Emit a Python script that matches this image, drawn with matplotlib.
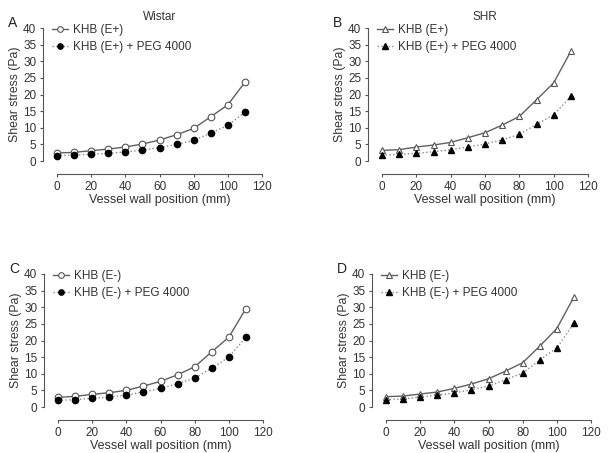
import matplotlib.pyplot as plt

plt.rcParams['font.family'] = ['Liberation Sans', 'DejaVu Sans']

# vessel wall positions (mm)
position = [0, 10, 20, 30, 40, 50, 60, 70, 80, 90, 100, 110]

# Wistar
wistar_khb_ep = [2.4, 2.6, 3.1, 3.6, 4.2, 5.1, 6.3, 7.9, 9.8, 13.3, 16.9, 23.7]
wistar_peg_ep = [1.6, 1.8, 2.0, 2.3, 2.7, 3.3, 4.0, 5.0, 6.2, 8.4, 10.7, 14.7]
wistar_khb_em = [2.9, 3.2, 3.8, 4.3, 5.0, 6.3, 7.7, 9.7, 12.1, 16.6, 21.0, 29.6]
wistar_peg_em = [2.0, 2.2, 2.6, 3.0, 3.6, 4.5, 5.6, 7.0, 8.7, 11.7, 15.0, 21.0]

# SHR
shr_khb_ep = [3.2, 3.4, 4.2, 4.8, 5.6, 7.0, 8.5, 10.8, 13.4, 18.4, 23.5, 33.0]
shr_peg_ep = [1.8, 2.0, 2.3, 2.8, 3.4, 4.2, 5.1, 6.4, 8.0, 11.0, 13.9, 19.4]
shr_khb_em = [3.1, 3.3, 3.9, 4.5, 5.6, 6.9, 8.5, 10.8, 13.3, 18.3, 23.6, 33.1]
shr_peg_em = [2.2, 2.4, 3.0, 3.6, 4.2, 5.2, 6.3, 8.2, 10.2, 14.1, 17.8, 25.2]

W, H = 611, 453
fig = plt.figure(figsize=(W / 100, H / 100), dpi=100)

txt = '#333333'
grey = '#606060'

panels = [
    # letter, title, marker, khb label, peg label, khb, peg, axes px (x0, x120, y0, y40)
    ('A', 'Wistar', 'o', 'KHB (E+)', 'KHB (E+) + PEG 4000', wistar_khb_ep, wistar_peg_ep, (57, 262, 161, 28)),
    ('B', 'SHR', '^', 'KHB (E+)', 'KHB (E+) + PEG 4000', shr_khb_ep, shr_peg_ep, (382, 588, 161, 28)),
    ('C', None, 'o', 'KHB (E-)', 'KHB (E-) + PEG 4000', wistar_khb_em, wistar_peg_em, (58, 263, 407, 274)),
    ('D', None, '^', 'KHB (E-)', 'KHB (E-) + PEG 4000', shr_khb_em, shr_peg_em, (386, 591, 407, 274)),
]

for letter, title, mk, lab1, lab2, khb, peg, (x0, x1, yb, yt) in panels:
    ax = fig.add_axes([x0 / W, 1 - yb / H, (x1 - x0) / W, (yb - yt) / H])
    ms = 4.8 if mk == 'o' else 5
    ax.plot(position, khb, '-', color=grey, lw=1.0, marker=mk, ms=ms,
            mfc='white', mec='#555555', mew=0.8, label=lab1, clip_on=False)
    ax.plot(position, peg, ':', color='#888888', lw=1.0, marker=mk, ms=ms - 0.3,
            mfc='black', mec='black', label=lab2, clip_on=False)
    ax.set_xlim(0, 120)
    ax.set_ylim(0, 40)
    ax.set_xticks(range(0, 121, 20))
    ax.set_yticks(range(0, 41, 5))
    for s in ('top', 'right'):
        ax.spines[s].set_visible(False)
    ax.spines['left'].set_position(('outward', 10))
    ax.spines['bottom'].set_position(('outward', 9.5))
    for s in ('left', 'bottom'):
        ax.spines[s].set_color('#555555')
        ax.spines[s].set_linewidth(0.8)
    ax.tick_params(colors='#555555', labelcolor=txt, labelsize=8.5, length=2.5,
                   width=0.8, pad=2.5)
    ax.set_xlabel('Vessel wall position (mm)', fontsize=9, color=txt, labelpad=0.3)
    ax.set_ylabel('Shear stress (Pa)', fontsize=8.8, color=txt, labelpad=1.5)
    ax.patch.set_visible(False)
    leg = ax.legend(loc='upper left', bbox_to_anchor=(-0.025, 1.03), frameon=False,
                    fontsize=8.5, handlelength=1.4, handletextpad=0.35,
                    labelspacing=0.4, borderaxespad=0, borderpad=0, markerscale=0.85)
    for t in leg.get_texts():
        t.set_color(txt)
    if title:
        ax.set_title(title, fontsize=8.5, color=txt, pad=5.5)
    ax.text(-0.215, 1.035, letter, transform=ax.transAxes, fontsize=10,
            color='#222222', ha='center', va='center')

fig.savefig('out.png', dpi=100)
